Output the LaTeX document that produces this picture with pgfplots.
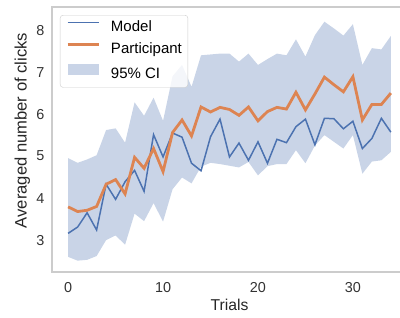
\documentclass[border=0pt]{standalone}
\usepackage{pgfplots}
\pgfplotsset{compat=1.18}
\usepackage{pgfplotstable}
\usepgfplotslibrary{fillbetween}
\usepackage{fontspec}
\setmainfont{Liberation Sans}
\definecolor{sbblue}{HTML}{4C72B0}
\definecolor{sborange}{HTML}{DD8452}
\definecolor{spine}{HTML}{CCCCCC}
\pgfplotstableread{
i m p lo up
0 3.16 3.79 2.60 4.95
1 3.31 3.68 2.51 4.84
2 3.65 3.71 2.53 4.92
3 3.24 3.80 2.62 5.02
4 4.33 4.33 3.00 5.62
5 3.97 4.44 3.11 5.66
6 4.39 4.10 2.89 5.32
7 4.66 4.97 3.63 6.28
8 4.16 4.71 3.45 5.96
9 5.51 5.18 3.88 6.39
10 4.98 4.63 3.44 5.84
11 5.55 5.56 4.21 6.90
12 5.45 5.86 4.49 7.17
13 4.83 5.48 4.35 6.65
14 4.65 6.17 4.75 7.40
15 5.46 6.05 4.84 7.42
16 5.88 6.16 4.81 7.44
17 4.98 6.11 4.77 7.44
18 5.31 5.97 4.73 7.25
19 4.90 6.17 4.86 7.44
20 5.34 5.84 4.54 7.17
21 4.83 6.06 4.76 7.31
22 5.40 6.16 4.81 7.44
23 5.32 6.12 4.81 7.40
24 5.70 6.52 5.14 7.78
25 5.88 6.10 4.83 7.37
26 5.27 6.48 5.25 7.88
27 5.90 6.88 5.50 8.20
28 5.89 6.70 5.34 8.04
29 5.65 6.53 5.18 7.87
30 5.83 6.89 5.50 8.14
31 5.18 5.86 4.58 7.17
32 5.42 6.23 4.87 7.57
33 5.90 6.23 4.90 7.54
34 5.57 6.50 5.10 7.86
}\data
\begin{document}
\begin{tikzpicture}
\begin{axis}[
  scale only axis, width=355pt, height=265pt,
  xmin=-1.7, xmax=35.7, ymin=2.24, ymax=8.55,
  xtick={0,10,20,30}, ytick={3,4,5,6,7,8},
  major tick length=0pt,
  axis line style={spine, line width=1.25pt},
  /pgf/number format/assume math mode=true,
  tick label style={font=\fontsize{14.4}{16}\selectfont, text=black!80},
  xticklabel style={yshift=-7pt},
  yticklabel style={xshift=-4pt},
  xlabel={Trials}, ylabel={Averaged number of clicks},
  xlabel style={font=\fontsize{15.7}{18}\selectfont, text=black!85, at={(axis description cs:0.5,-0.145)}, anchor=base},
  ylabel style={font=\fontsize{16.6}{19}\selectfont, text=black!85, at={(axis description cs:-0.0713,0.534)}, anchor=base},
  legend style={at={(axis description cs:0,1)}, anchor=north west, xshift=8pt, yshift=-8pt,
    draw=spine, rounded corners=3pt, fill=white, fill opacity=0.8, text opacity=1,
    font=\fontsize{15}{18}\selectfont, inner xsep=6pt, inner ysep=5pt,
    row sep=7.5pt, column sep=11pt, nodes={inner sep=0pt, text height=11pt, text depth=3.5pt}},
  legend cell align=left,
]
\addplot[name path=up, draw=none, forget plot] table[x=i, y=up] {\data};
\addplot[name path=lo, draw=none, forget plot] table[x=i, y=lo] {\data};
\addplot[sbblue, fill opacity=0.3, draw=none, forget plot] fill between[of=up and lo];
\addplot[sbblue, line width=1.5pt, legend image code/.code={\draw[sbblue, line width=1.5pt] (0pt,5pt) -- (31pt,5pt);}] table[x=i, y=m] {\data};
\addlegendentry{Model}
\addplot[sborange, line width=2.8pt, legend image code/.code={\draw[sborange, line width=2.8pt] (0pt,5pt) -- (31pt,5pt);}] table[x=i, y=p] {\data};
\addlegendentry{Participant}
\addlegendimage{draw=none, legend image code/.code={\path[draw=none, fill=sbblue, fill opacity=0.3, sharp corners] (0pt,0pt) rectangle (31pt,11pt);}}
\addlegendentry{95\% CI}
\end{axis}
\pgfresetboundingbox
\useasboundingbox ([shift={(-52pt,-45pt)}]current axis.south west) rectangle ([shift={(348pt,272pt)}]current axis.south west);
\end{tikzpicture}
\end{document}
